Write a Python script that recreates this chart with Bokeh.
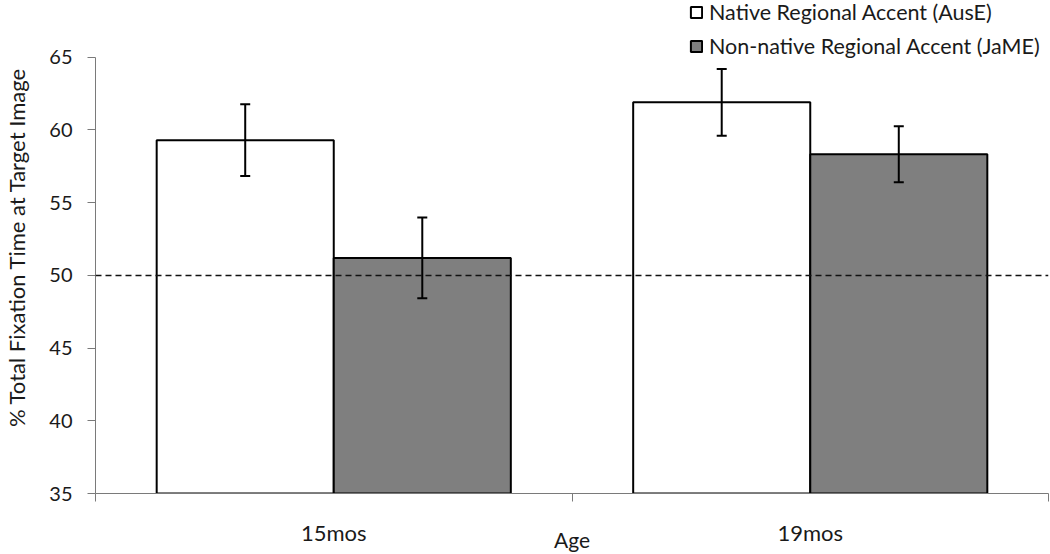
import numpy as np
from bokeh.plotting import figure
from bokeh.models import (Range1d, FixedTicker, Whisker, TeeHead, Span, Legend,
                          LegendItem, ColumnDataSource)
from bokeh.embed import file_html
from bokeh.resources import INLINE

# ---- data ----
ages = ["15mos", "19mos"]
native = [59.3, 61.9]
native_err = [2.47, 2.3]
nonnative = [51.2, 58.33]
nonnative_err = [2.78, 1.92]
y_ticks = [35, 40, 45, 50, 55, 60, 65]
chance_level = 50
series_names = ["Native Regional Accent (AusE)", "Non-native Regional Accent (JaME)"]

FONT = "Lato"
TXT = "#1a1a1a"
AX = "#7a7a7a"
Y0, Y1 = 35, 65
bar_w = 0.3716

# layout (pixels): frame spans the whole height down to the x axis; the y axis
# itself is bounded to 35..65 so the space above holds the legend
W, H = 1050, 554
LEFT, RIGHT = 90, 2
FRAME_BOTTOM = 495
AXIS_TOP_PX = 57
px_per_unit = (FRAME_BOTTOM - AXIS_TOP_PX) / (Y1 - Y0)
Y_TOP = Y1 + AXIS_TOP_PX / px_per_unit

idx = np.arange(len(ages))
centers = idx + 0.5
x_native = centers - bar_w / 2
x_non = centers + bar_w / 2

p = figure(width=W, height=H, output_backend="svg", toolbar_location=None,
           x_range=Range1d(0, len(ages)), y_range=Range1d(Y0, Y_TOP),
           min_border_left=LEFT, min_border_right=RIGHT, min_border_top=0,
           min_border_bottom=H - FRAME_BOTTOM)
p.outline_line_color = None
p.xgrid.visible = False
p.ygrid.visible = False
p.background_fill_color = "white"

src_n = ColumnDataSource(dict(x=x_native, top=native,
                              upper=np.array(native) + np.array(native_err),
                              lower=np.array(native) - np.array(native_err)))
src_g = ColumnDataSource(dict(x=x_non, top=nonnative,
                              upper=np.array(nonnative) + np.array(nonnative_err),
                              lower=np.array(nonnative) - np.array(nonnative_err)))

r_n = p.vbar(x="x", top="top", bottom=Y0, width=bar_w, source=src_n,
             fill_color="white", line_color="black", line_width=2)
r_g = p.vbar(x="x", top="top", bottom=Y0, width=bar_w, source=src_g,
             fill_color="#7f7f7f", line_color="black", line_width=2)

p.add_layout(Span(location=chance_level, dimension="width", line_color="#111111",
                  line_dash="6 4", line_width=1.5))

for src in (src_n, src_g):
    w = Whisker(base="x", upper="upper", lower="lower", source=src,
                line_color="black", line_width=2, level="overlay",
                upper_head=TeeHead(size=10, line_width=2, line_color="black"),
                lower_head=TeeHead(size=10, line_width=2, line_color="black"))
    p.add_layout(w)

# y axis
ya = p.yaxis[0]
ya.bounds = (Y0, Y1)
ya.ticker = FixedTicker(ticks=y_ticks)
ya.major_tick_in = 0
ya.major_tick_out = 8
ya.axis_line_color = AX
ya.major_tick_line_color = AX
ya.major_label_text_font = FONT
ya.major_label_text_font_size = "20px"
ya.major_label_text_color = TXT
ya.major_label_standoff = 15
ya.axis_label = "% Total Fixation Time at Target Image"
ya.axis_label_text_font = FONT
ya.axis_label_text_font_size = "22px"
ya.axis_label_text_font_style = "normal"
ya.axis_label_text_color = TXT
ya.axis_label_standoff = 16

# x axis
xa = p.xaxis[0]
xa.ticker = FixedTicker(ticks=list(centers), minor_ticks=list(range(len(ages) + 1)))
xa.major_label_overrides = {float(c): a for c, a in zip(centers, ages)}
xa.major_tick_line_color = None
xa.major_tick_in = 0
xa.major_tick_out = 8
xa.minor_tick_in = 0
xa.minor_tick_out = 8
xa.minor_tick_line_color = AX
xa.axis_line_color = AX
xa.major_label_text_font = FONT
xa.major_label_text_font_size = "22px"
xa.major_label_text_color = TXT
xa.major_label_standoff = 17
xa.axis_label = "Age"
xa.axis_label_text_font = FONT
xa.axis_label_text_font_size = "21px"
xa.axis_label_text_font_style = "normal"
xa.axis_label_text_color = TXT
xa.axis_label_standoff = -22

legend = Legend(items=[LegendItem(label=series_names[0], renderers=[r_n]),
                       LegendItem(label=series_names[1], renderers=[r_g])],
                location=(594, 434), padding=0, margin=0, spacing=8,
                glyph_width=14, glyph_height=14, label_height=23,
                label_standoff=6, border_line_color=None,
                background_fill_alpha=0, label_text_font=FONT,
                label_text_font_size="21.5px", label_text_color=TXT)
p.add_layout(legend, "center")

open("out.html", "w").write(file_html(p, INLINE))
